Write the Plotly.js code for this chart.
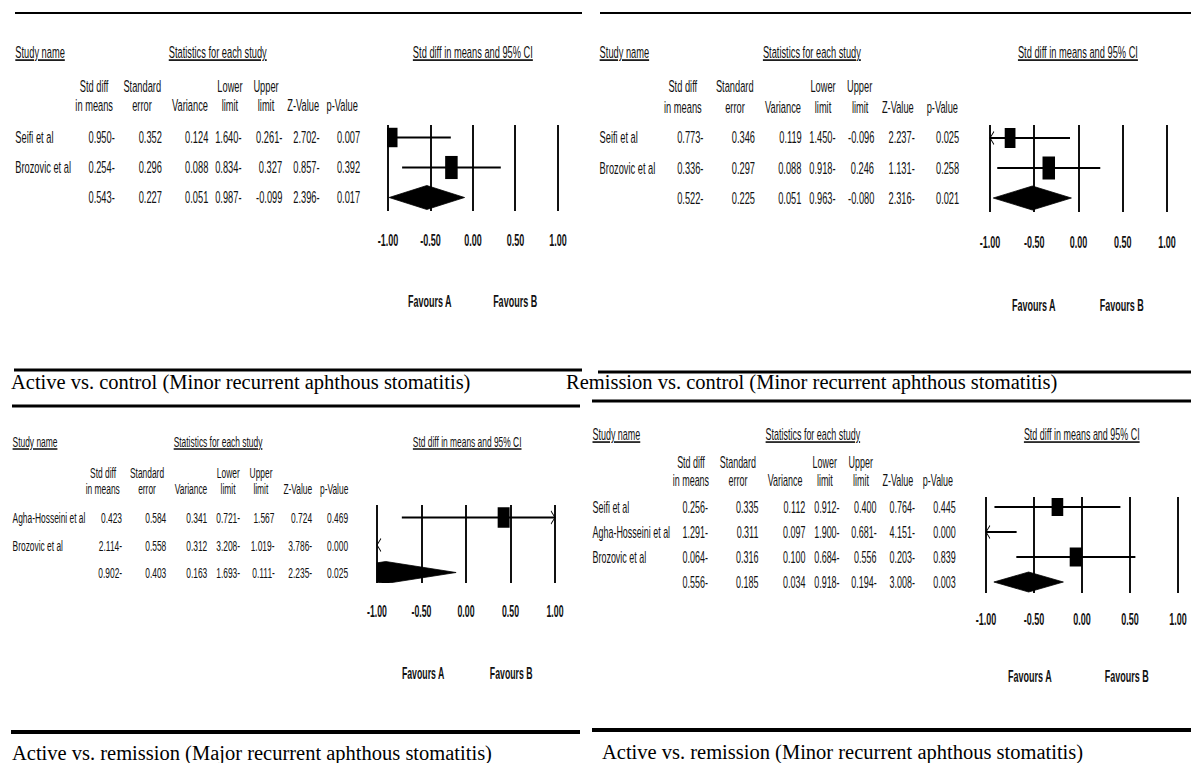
<!DOCTYPE html>
<html><head><meta charset="utf-8">
<script src="https://cdn.plot.ly/plotly-3.0.1.min.js"></script>
<style>
html,body{margin:0;padding:0;background:#fff;overflow:hidden;width:1191px;height:763px}
#wrap{position:relative;width:1191px;height:763px;overflow:hidden}
#main{position:absolute;left:0;top:0;height:763px;transform-origin:0 0}
#over{position:absolute;left:0;top:0;width:1191px;height:763px}
</style>
</head><body><div id="wrap"><div id="main"></div><div id="over"></div></div>
<script>
// ---------------- data ----------------
const tickVals = [-1, -0.5, 0, 0.5, 1];
const tickText = ['-1.00', '-0.50', '0.00', '0.50', '1.00'];
const headLine1 = ['Std diff', 'Standard', '', 'Lower', 'Upper', '', ''];
const headLine2 = ['in means', 'error', 'Variance', 'limit', 'limit', 'Z-Value', 'p-Value'];
const favourLabels = ['Favours A', 'Favours B'];
const studyHeader = 'Study name';
const statsHeader = 'Statistics for each study';
const ciHeader = 'Std diff in means and 95% CI';
const captions = [
  'Active vs. control (Minor recurrent aphthous stomatitis)',
  'Remission vs. control (Minor recurrent aphthous stomatitis)',
  'Active vs. remission (Major recurrent aphthous stomatitis)',
  'Active vs. remission (Minor recurrent aphthous stomatitis)'
];

// Panel 1: Active vs. control (minor)
const p1Studies  = ['Seifi et al', 'Brozovic et al', ''];
const p1StdDiff  = ['0.950-', '0.254-', '0.543-'];
const p1StdErr   = ['0.352', '0.296', '0.227'];
const p1Variance = ['0.124', '0.088', '0.051'];
const p1Lower    = ['1.640-', '0.834-', '0.987-'];
const p1Upper    = ['0.261-', '0.327', '-0.099'];
const p1Z        = ['2.702-', '0.857-', '2.396-'];
const p1P        = ['0.007', '0.392', '0.017'];

// Panel 2: Remission vs. control (minor)
const p2Studies  = ['Seifi et al', 'Brozovic et al', ''];
const p2StdDiff  = ['0.773-', '0.336-', '0.522-'];
const p2StdErr   = ['0.346', '0.297', '0.225'];
const p2Variance = ['0.119', '0.088', '0.051'];
const p2Lower    = ['1.450-', '0.918-', '0.963-'];
const p2Upper    = ['-0.096', '0.246', '-0.080'];
const p2Z        = ['2.237-', '1.131-', '2.316-'];
const p2P        = ['0.025', '0.258', '0.021'];

// Panel 3: Active vs. remission (major)
const p3Studies  = ['Agha-Hosseini et al', 'Brozovic et al', ''];
const p3StdDiff  = ['0.423', '2.114-', '0.902-'];
const p3StdErr   = ['0.584', '0.558', '0.403'];
const p3Variance = ['0.341', '0.312', '0.163'];
const p3Lower    = ['0.721-', '3.208-', '1.693-'];
const p3Upper    = ['1.567', '1.019-', '0.111-'];
const p3Z        = ['0.724', '3.786-', '2.235-'];
const p3P        = ['0.469', '0.000', '0.025'];

// Panel 4: Active vs. remission (minor)
const p4Studies  = ['Seifi et al', 'Agha-Hosseini et al', 'Brozovic et al', ''];
const p4StdDiff  = ['0.256-', '1.291-', '0.064-', '0.556-'];
const p4StdErr   = ['0.335', '0.311', '0.316', '0.185'];
const p4Variance = ['0.112', '0.097', '0.100', '0.034'];
const p4Lower    = ['0.912-', '1.900-', '0.684-', '0.918-'];
const p4Upper    = ['0.400', '0.681-', '0.556', '0.194-'];
const p4Z        = ['0.764-', '4.151-', '0.203-', '3.008-'];
const p4P        = ['0.445', '0.000', '0.839', '0.003'];

// ---------------- layout geometry (reference pixels) ----------------
const W = 1191, H = 763;
const SQ = 0.546;                // horizontal squeeze of the exported meta-analysis graphics
const WM = Math.round(W / SQ);   // un-squeezed width of the forest-plot figure
const SANS = '"Liberation Sans", Arial, sans-serif';
const SERIF = '"Liberation Serif", "Times New Roman", serif';

const panels = [
  { studies: p1Studies, cols: [p1StdDiff, p1StdErr, p1Variance, p1Lower, p1Upper, p1Z, p1P],
    studyX: 15, headY: 52, statsCX: 218, ciCX: 473, h1Y: 87, h2Y: 106,
    headCX: [94, 142, 190, 230, 266, 303, 342], colRX: [115, 163, 209, 242, 283, 320, 361],
    row0: 137.5, step: 30, plotX: [388, 558], plotY: [125, 211], tickY: 240,
    favY: 301, favCX: [430, 515], fs: 17, fb: 16.5 },
  { studies: p2Studies, cols: [p2StdDiff, p2StdErr, p2Variance, p2Lower, p2Upper, p2Z, p2P],
    studyX: 599, headY: 52, statsCX: 812, ciCX: 1078, h1Y: 87, h2Y: 107,
    headCX: [683, 735, 783, 823, 860, 898, 942], colRX: [704, 756, 802, 836, 875, 915, 960],
    row0: 138, step: 30, plotX: [990, 1167], plotY: [125, 212], tickY: 242,
    favY: 305, favCX: [1034, 1122], fs: 17, fb: 16.5 },
  { studies: p3Studies, cols: [p3StdDiff, p3StdErr, p3Variance, p3Lower, p3Upper, p3Z, p3P],
    studyX: 12, headY: 441, statsCX: 218, ciCX: 467, h1Y: 472, h2Y: 488,
    headCX: [103, 147, 191, 228, 261, 298, 334], colRX: [123, 167, 208, 241, 275, 313, 349],
    row0: 517.5, step: 27.5, plotX: [377, 555], plotY: [505, 583], tickY: 611,
    favY: 673, favCX: [423, 511], fs: 15.4, fb: 16 },
  { studies: p4Studies, cols: [p4StdDiff, p4StdErr, p4Variance, p4Lower, p4Upper, p4Z, p4P],
    studyX: 592, headY: 434, statsCX: 813, ciCX: 1082, h1Y: 462, h2Y: 480,
    headCX: [691, 738, 785, 825, 861, 898, 938], colRX: [708, 759, 806, 840, 877, 915, 956],
    row0: 507, step: 25, plotX: [986, 1178], plotY: [497, 593], tickY: 619,
    favY: 676, favCX: [1030, 1127], fs: 16.4, fb: 16.5 }
];

const rules = [
  { y: 13, x0: 15, x1: 582, w: 2 }, { y: 13, x0: 600, x1: 1191, w: 2 },
  { y: 370, x0: 14, x1: 582, w: 3 }, { y: 372, x0: 598, x1: 1191, w: 3 },
  { y: 406, x0: 12, x1: 580, w: 3 }, { y: 401, x0: 592, x1: 1191, w: 3 },
  { y: 732, x0: 11, x1: 580, w: 4 }, { y: 730, x0: 592, x1: 1191, w: 4 }
];
const captionPos = [{ x: 10, y: 382 }, { x: 565, y: 382 }, { x: 11, y: 753 }, { x: 601, y: 752 }];

// ---------------- helpers ----------------
const px = x => x / W;          // paper fraction (same for squeezed and overlay figures)
const py = y => 1 - y / H;
function num(s) { const neg = s.indexOf('-') >= 0; return (neg ? -1 : 1) * parseFloat(s.replace('-', '')); }
function clipPoly(xs, ys, xmin, xmax) {
  let pts = xs.map((x, i) => [x, ys[i]]);
  const clip = (pts, inside, inter) => {
    const out = [];
    for (let i = 0; i < pts.length; i++) {
      const a = pts[i], b = pts[(i + 1) % pts.length];
      const ia = inside(a), ib = inside(b);
      if (ia) out.push(a);
      if (ia !== ib) out.push(inter(a, b));
    }
    return out;
  };
  const interX = xv => (a, b) => [xv, a[1] + (b[1] - a[1]) * (xv - a[0]) / (b[0] - a[0])];
  pts = clip(pts, p => p[0] >= xmin, interX(xmin));
  pts = clip(pts, p => p[0] <= xmax, interX(xmax));
  if (pts.length) pts.push(pts[0]);
  return { x: pts.map(p => p[0]), y: pts.map(p => p[1]) };
}

const traces = [], annotations = [];
const layout = {
  width: WM, height: H, margin: { l: 0, r: 0, t: 0, b: 0 },
  paper_bgcolor: '#fff', plot_bgcolor: 'rgba(0,0,0,0)', showlegend: false,
  hovermode: false, dragmode: false, barmode: 'overlay'
};

function ann(list, text, x, y, xanchor, font) {
  list.push({ text, x: px(x), y: py(y), xref: 'paper', yref: 'paper', xanchor, yanchor: 'middle',
    showarrow: false, font, borderpad: 0 });
}
const ul = t => '<span style="text-decoration:underline">' + t + '</span>';

panels.forEach((P, k) => {
  const n = k + 1;
  const xa = 'x' + (n > 1 ? n : ''), ya = 'y' + (n > 1 ? n : '');
  const fT = { family: SANS, size: P.fs, color: '#111' };
  const fB = { family: SANS, size: P.fb, color: '#111', weight: 'bold' };

  // table headers
  ann(annotations, ul(studyHeader), P.studyX, P.headY, 'left', fT);
  ann(annotations, ul(statsHeader), P.statsCX, P.headY, 'center', fT);
  ann(annotations, ul(ciHeader), P.ciCX, P.headY, 'center', fT);
  headLine1.forEach((t, j) => { if (t) ann(annotations, t, P.headCX[j], P.h1Y, 'center', fT); });
  headLine2.forEach((t, j) => ann(annotations, t, P.headCX[j], P.h2Y, 'center', fT));

  // table body
  P.studies.forEach((s, r) => {
    const yRow = P.row0 + r * P.step;
    if (s) ann(annotations, s, P.studyX, yRow, 'left', fT);
    P.cols.forEach((col, j) => ann(annotations, col[r], P.colRX[j], yRow, 'right', fT));
  });

  // axes
  const unit = (P.plotX[1] - P.plotX[0]) / 2, pad = 0.06;
  layout['xaxis' + (n > 1 ? n : '')] = {
    domain: [px(P.plotX[0] - pad * unit), px(P.plotX[1] + pad * unit)], range: [-1 - pad, 1 + pad],
    anchor: ya, tickvals: tickVals, ticktext: tickText, ticks: '', showgrid: true,
    gridcolor: '#111', gridwidth: 2 / SQ, zeroline: false, showline: false, fixedrange: true,
    tickfont: fB, ticklabelstandoff: Math.round(P.tickY - P.plotY[1] - P.fb / 2 - 3)
  };
  const yBot = (P.plotY[1] - P.row0) / P.step, yTop = (P.plotY[0] - P.row0) / P.step;
  layout['yaxis' + (n > 1 ? n : '')] = {
    domain: [py(P.plotY[1]), py(P.plotY[0])], range: [yBot, yTop], anchor: xa,
    visible: false, fixedrange: true
  };

  // marks
  const means = P.cols[0].map(num), lows = P.cols[3].map(num), ups = P.cols[4].map(num);
  const vars = P.cols[2].map(num);
  const nStudy = P.studies.length - 1;
  const wts = vars.slice(0, nStudy).map(v => 1 / v);
  const wmax = Math.max(...wts);
  const lx = [], ly = [], arx = [], ary = [];
  const axU = 4 / unit, ayU = 6.5 / P.step;
  const bx = [], bw = [], bh = [], bb = [];
  for (let r = 0; r < nStudy; r++) {
    const lo = Math.max(lows[r], -1), hi = Math.min(ups[r], 1);
    if (lo < hi) { lx.push(lo, hi, null); ly.push(r, r, null); }
    if (lows[r] < -1) { arx.push(-1 + axU, -1, -1 + axU, null); ary.push(r - ayU, r, r + ayU, null); }
    if (ups[r] > 1) { arx.push(1 - axU, 1, 1 - axU, null); ary.push(r - ayU, r, r + ayU, null); }
    const sc = Math.sqrt(wts[r] / wmax);
    const h = 0.77 * sc;
    bx.push(means[r]); bw.push(12.5 * sc / unit); bh.push(h); bb.push(r - h / 2);
  }
  traces.push({ type: 'scatter', mode: 'lines', x: lx, y: ly, xaxis: xa, yaxis: ya,
    line: { color: '#000', width: 2 }, hoverinfo: 'skip' });
  traces.push({ type: 'scatter', mode: 'lines', x: arx, y: ary, xaxis: xa, yaxis: ya,
    line: { color: '#000', width: 1.3 }, hoverinfo: 'skip' });
  traces.push({ type: 'bar', x: bx, y: bh, base: bb, width: bw, xaxis: xa, yaxis: ya,
    marker: { color: '#000', line: { width: 0 } }, hoverinfo: 'skip' });
  const r = nStudy, dh = 0.4;
  const dp = clipPoly([lows[r], means[r], ups[r], means[r]], [r, r - dh, r, r + dh], -1, 1);
  traces.push({ type: 'scatter', mode: 'lines', x: dp.x, y: dp.y, fill: 'toself', fillcolor: '#000',
    xaxis: xa, yaxis: ya, line: { color: '#000', width: 1 }, hoverinfo: 'skip' });

  favourLabels.forEach((t, j) => ann(annotations, t, P.favCX[j], P.favY, 'center', fB));
});
layout.annotations = annotations;

// overlay figure: captions and horizontal rules (not squeezed)
const overAnn = [], overShapes = [];
captions.forEach((c, k) => ann(overAnn, c, captionPos[k].x, captionPos[k].y, 'left',
  { family: SERIF, size: 20.5, color: '#000' }));
rules.forEach(R => overShapes.push({ type: 'line', xref: 'paper', yref: 'paper',
  x0: px(R.x0), x1: px(R.x1), y0: py(R.y), y1: py(R.y), line: { color: '#000', width: R.w } }));
const overLayout = {
  width: W, height: H, margin: { l: 0, r: 0, t: 0, b: 0 },
  paper_bgcolor: 'rgba(0,0,0,0)', plot_bgcolor: 'rgba(0,0,0,0)', showlegend: false,
  xaxis: { visible: false }, yaxis: { visible: false },
  annotations: overAnn, shapes: overShapes
};

const mainDiv = document.getElementById('main');
mainDiv.style.width = WM + 'px';
mainDiv.style.transform = 'scaleX(' + (W / WM) + ')';
Plotly.newPlot(mainDiv, traces, layout, { staticPlot: true, displayModeBar: false });
Plotly.newPlot('over', [], overLayout, { staticPlot: true, displayModeBar: false });
</script>
</body></html>
